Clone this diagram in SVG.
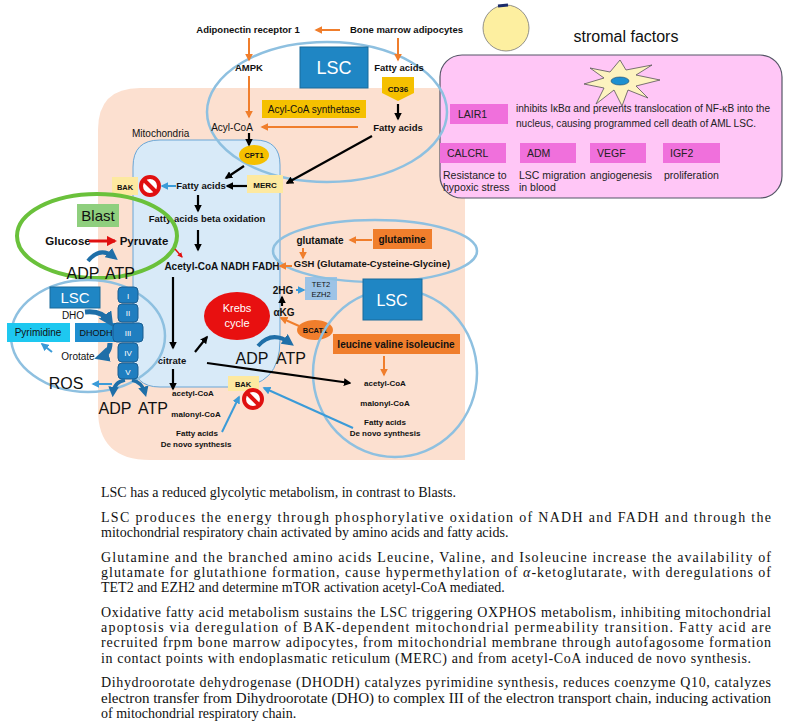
<svg xmlns="http://www.w3.org/2000/svg" width="787" height="725" viewBox="0 0 787 725">
<style>
.b{font-family:"Liberation Sans",Arial,sans-serif;font-weight:bold;fill:#111}
.n{font-family:"Liberation Sans",Arial,sans-serif;fill:#111}
.s{font-family:"Liberation Serif","Times New Roman",serif;font-size:14px;fill:#111}
.or{stroke:#f07e2c;stroke-width:2;fill:none}
.bk{stroke:#000;stroke-width:2.2;fill:none}
.bl{stroke:#3b9bd8;stroke-width:2;fill:none}
.ell{fill:none;stroke:#8ec0e0;stroke-width:2.5}
.pk{fill:#f070dc}
.pt{font-family:"Liberation Sans",Arial,sans-serif;font-size:10.5px;fill:#222}
.cx{fill:#1f7ec0;stroke:#1a5d8f;stroke-width:1}
.w{font-family:"Liberation Sans",Arial,sans-serif;fill:#fff}
</style>
<defs>
<marker id="ao" viewBox="0 0 10 10" refX="8" refY="5" markerWidth="4" markerHeight="4" orient="auto"><path d="M0,0L10,5L0,10z" fill="#f07e2c"/></marker>
<marker id="ak" viewBox="0 0 10 10" refX="8" refY="5" markerWidth="3.5" markerHeight="3.5" orient="auto"><path d="M0,0L10,5L0,10z" fill="#000"/></marker>
<marker id="ab" viewBox="0 0 10 10" refX="8" refY="5" markerWidth="4" markerHeight="4" orient="auto"><path d="M0,0L10,5L0,10z" fill="#3b9bd8"/></marker>
<marker id="ar" viewBox="0 0 10 10" refX="8" refY="5" markerWidth="3.5" markerHeight="3.5" orient="auto"><path d="M0,0L10,5L0,10z" fill="#e01010"/></marker>
<marker id="ad" viewBox="0 0 10 10" refX="6" refY="5" markerWidth="3" markerHeight="3" orient="auto"><path d="M0,0L10,5L0,10z" fill="#1f6fa8"/></marker>
<g id="nosign"><circle r="9" fill="#fff" stroke="#e01010" stroke-width="4"/><line x1="-6" y1="-6" x2="6" y2="6" stroke="#e01010" stroke-width="4"/></g>
</defs>
<rect width="787" height="725" fill="#fff"/>

<g id="cell"><path d="M140,88 H465 V460 H150 Q98,460 98,410 V130 Q98,88 140,88 Z" fill="#fce0d0"/></g>
<g id="mito"><path d="M160,140 H255 Q280,140 280,165 V340 Q280,387 235,387 H160 Q133,387 133,360 V167 Q133,140 160,140 Z" fill="#d8eaf8" stroke="#6aa6d6" stroke-width="1"/>
<text x="132" y="137" class="n" font-size="10">Mitochondria</text></g>

<g id="stromal">
<circle cx="506" cy="28" r="23" fill="#fdefa0" stroke="#777" stroke-width="0.8"/>
<path d="M498,6 L508,5" stroke="#1a2a6a" stroke-width="3" fill="none"/>
<text x="626" y="42" class="n" font-size="16" text-anchor="middle">stromal factors</text>
<rect x="440" y="55" width="342" height="143" rx="22" fill="#ffc6f6" stroke="#556" stroke-width="1.2"/>
<path d="M620,60 L626,70 L652,65 L636,75 L660,80 L636,86 L648,98 L628,90 L622,106 L614,90 L596,104 L604,88 L584,84 L604,78 L590,68 L610,72 Z" fill="#fdf3c0" stroke="#555" stroke-width="0.8"/>
<ellipse cx="620" cy="81" rx="9" ry="4" fill="#1e90d0" stroke="#246" stroke-width="0.6"/>
<rect x="450" y="104" width="58" height="20" class="pk"/><text x="458" y="118" class="pt">LAIR1</text>
<text x="516" y="112" class="pt" textLength="254" lengthAdjust="spacingAndGlyphs">inhibits IκBα and prevents translocation of NF-κB into the</text>
<text x="516" y="127" class="pt" textLength="240" lengthAdjust="spacingAndGlyphs">nucleus, causing programmed cell death  of AML LSC.</text>
<rect x="440" y="143" width="66" height="20" class="pk"/><text x="447" y="157" class="pt">CALCRL</text>
<rect x="520" y="143" width="56" height="20" class="pk"/><text x="527" y="157" class="pt">ADM</text>
<rect x="590" y="143" width="56" height="20" class="pk"/><text x="597" y="157" class="pt">VEGF</text>
<rect x="663" y="143" width="57" height="20" class="pk"/><text x="670" y="157" class="pt">IGF2</text>
<text x="443" y="179" class="pt" font-size="10">Resistance to</text><text x="443" y="191" class="pt" font-size="10">hypoxic stress</text>
<text x="519" y="179" class="pt" font-size="10">LSC migration</text><text x="519" y="191" class="pt" font-size="10">in blood</text>
<text x="590" y="179" class="pt" font-size="10">angiogenesis</text>
<text x="664" y="179" class="pt" font-size="10">proliferation</text>
</g>

<g id="top">
<text x="248" y="33" class="b" font-size="9.5" text-anchor="middle">Adiponectin  receptor 1</text>
<text x="350" y="33" class="b" font-size="9.5">Bone marrow adipocytes</text>
<ellipse cx="327" cy="112" rx="120" ry="70" class="ell"/>
<rect x="300" y="47" width="68" height="41" fill="#1f86c4" stroke="#1a6a9a"/>
<text x="334" y="74" class="w" font-size="18" text-anchor="middle">LSC</text>
<text x="249" y="71" class="b" font-size="9.5" text-anchor="middle">AMPK</text>
<text x="399" y="71" class="b" font-size="9.5" text-anchor="middle">Fatty acids</text>
<path d="M382,77 H414 V93 L398,101 L382,93 Z" fill="#f5c000"/>
<text x="398" y="92" class="b" font-size="8" text-anchor="middle">CD36</text>
<text x="398" y="131" class="b" font-size="9.5" text-anchor="middle">Fatty acids</text>
<rect x="262" y="100" width="104" height="18" fill="#f5c000"/>
<text x="314" y="113" class="n" font-size="10" text-anchor="middle">Acyl-CoA synthetase</text>
<text x="232" y="131" class="n" font-size="10" text-anchor="middle">Acyl-CoA</text>
<ellipse cx="254" cy="155" rx="15" ry="10" fill="#f5c000"/>
<text x="254" y="158" class="b" font-size="7.5" text-anchor="middle">CPT1</text>
<rect x="247" y="175" width="36" height="18" fill="#fde9a0"/>
<text x="265" y="188" class="b" font-size="8" text-anchor="middle">MERC</text>
<text x="201" y="189" class="b" font-size="9.5" text-anchor="middle">Fatty acids</text>
<rect x="112" y="177" width="26" height="18" fill="#fde9a0"/>
<text x="125" y="190" class="b" font-size="7.5" text-anchor="middle">BAK</text>
<use href="#nosign" x="150" y="186"/>
<text x="207" y="222" class="b" font-size="9.5" text-anchor="middle">Fatty acids beta oxidation</text>
</g>

<g id="blast">
<ellipse cx="97" cy="236" rx="80" ry="42" fill="none" stroke="#6ac13b" stroke-width="4"/>
<rect x="77" y="204" width="42" height="23" fill="#8fcf7e"/>
<text x="98" y="221" class="n" font-size="15" text-anchor="middle">Blast</text>
<text x="68" y="245" class="b" font-size="11.5" text-anchor="middle">Glucose</text>
<text x="144" y="245" class="b" font-size="11.5" text-anchor="middle">Pyruvate</text>
<text x="83" y="279" class="n" font-size="16" text-anchor="middle">ADP</text>
<text x="120" y="279" class="n" font-size="16" text-anchor="middle">ATP</text>
<path d="M88,261 Q100,246 114,257" stroke="#1f6fa8" stroke-width="4" fill="none" marker-end="url(#ad)"/>
</g>

<g id="krebs">
<text x="222" y="270" class="b" font-size="10" text-anchor="middle">Acetyl-CoA  NADH  FADH</text>
<ellipse cx="237" cy="316" rx="33" ry="24" fill="#e81010"/>
<text x="237" y="312" class="w" font-size="11" text-anchor="middle">Krebs</text>
<text x="237" y="327" class="w" font-size="11" text-anchor="middle">cycle</text>
<text x="252" y="364" class="n" font-size="16" text-anchor="middle">ADP</text>
<text x="291" y="364" class="n" font-size="16" text-anchor="middle">ATP</text>
<path d="M258,346 Q272,330 290,343" stroke="#1f6fa8" stroke-width="4" fill="none" marker-end="url(#ad)"/>
<text x="172" y="364" class="b" font-size="9.5" text-anchor="middle">citrate</text>
<text x="193" y="396" class="b" font-size="8" text-anchor="middle">acetyl-CoA</text>
<text x="196" y="417" class="b" font-size="8" text-anchor="middle">malonyl-CoA</text>
<text x="197" y="436" class="b" font-size="8" text-anchor="middle">Fatty acids</text>
<text x="196" y="447" class="b" font-size="8" text-anchor="middle">De novo synthesis</text>
<rect x="228" y="376" width="31" height="15" fill="#fde9a0"/>
<text x="243" y="387" class="b" font-size="7.5" text-anchor="middle">BAK</text>
<use href="#nosign" x="253" y="399"/>
<text x="283" y="294" class="b" font-size="10" text-anchor="middle">2HG</text>
<text x="284" y="316" class="b" font-size="10" text-anchor="middle">αKG</text>
<rect x="305" y="277" width="32" height="23" fill="#9dc3e6"/>
<text x="321" y="287" class="n" font-size="7.5" fill="#2a5a8a" text-anchor="middle">TET2</text>
<text x="321" y="297" class="n" font-size="7.5" fill="#2a5a8a" text-anchor="middle">EZH2</text>
<ellipse cx="315" cy="330" rx="18" ry="10" fill="#f07e2c"/>
<text x="315" y="333" class="b" font-size="7.5" text-anchor="middle" fill="#5a1a00">BCAT1</text>
</g>

<g id="glut">
<ellipse cx="375" cy="251" rx="102" ry="31" class="ell"/>
<text x="320" y="244" class="b" font-size="10" text-anchor="middle">glutamate</text>
<rect x="373" y="229" width="59" height="20" fill="#f07e2c"/>
<text x="402" y="243" class="b" font-size="10" text-anchor="middle" fill="#4a1a00">glutamine</text>
<text x="372" y="267" class="b" font-size="9.5" text-anchor="middle">GSH (Glutamate-Cysteine-Glycine)</text>
</g>

<g id="lsc2">
<ellipse cx="395" cy="373" rx="82" ry="84" class="ell"/>
<rect x="363" y="279" width="59" height="41" fill="#1f86c4" stroke="#1a6a9a"/>
<text x="392" y="306" class="w" font-size="16" text-anchor="middle">LSC</text>
<rect x="333" y="334" width="127" height="20" fill="#f07e2c"/>
<text x="396" y="348" class="b" font-size="10" text-anchor="middle" fill="#4a1a00">leucine valine isoleucine</text>
<text x="385" y="386" class="b" font-size="8" text-anchor="middle">acetyl-CoA</text>
<text x="385" y="406" class="b" font-size="8" text-anchor="middle">malonyl-CoA</text>
<text x="385" y="425" class="b" font-size="8" text-anchor="middle">Fatty acids</text>
<text x="385" y="436" class="b" font-size="8" text-anchor="middle">De novo synthesis</text>
</g>

<g id="lsc3">
<ellipse cx="88" cy="336" rx="77" ry="56" class="ell"/>
<rect x="50" y="287" width="50" height="21" fill="#1f86c4" stroke="#1a6a9a"/>
<text x="75" y="303" class="w" font-size="15" text-anchor="middle">LSC</text>
<text x="73" y="319" class="n" font-size="10" text-anchor="middle">DHO</text>
<rect x="7" y="323" width="63" height="19" fill="#1ec8f0"/>
<text x="38" y="336" class="n" font-size="10" text-anchor="middle">Pyrimidine</text>
<rect x="75" y="323" width="43" height="19" fill="#1f8fd0"/>
<text x="96" y="336" class="n" font-size="9" fill="#0a2a5a" text-anchor="middle">DHODH</text>
<text x="78" y="360" class="n" font-size="10" text-anchor="middle">Orotate</text>
<text x="66" y="389" class="n" font-size="16" text-anchor="middle">ROS</text>
<text x="115" y="414" class="n" font-size="16" text-anchor="middle">ADP</text>
<text x="153" y="414" class="n" font-size="16" text-anchor="middle">ATP</text>
<rect x="118" y="287" width="20" height="16" rx="4" class="cx"/><text x="128" y="299" class="w" font-size="8" text-anchor="middle">I</text>
<rect x="118" y="304" width="20" height="18" rx="4" class="cx"/><text x="128" y="316" class="w" font-size="8" text-anchor="middle">II</text>
<rect x="113" y="323" width="30" height="19" rx="4" class="cx"/><text x="128" y="336" class="w" font-size="8" text-anchor="middle">III</text>
<rect x="118" y="343" width="20" height="19" rx="4" class="cx"/><text x="128" y="356" class="w" font-size="8" text-anchor="middle">IV</text>
<rect x="118" y="363" width="20" height="16" rx="4" class="cx"/><text x="128" y="375" class="w" font-size="8" text-anchor="middle">V</text>
<path d="M85,312 Q102,310 110,322" stroke="#1f6fa8" stroke-width="5" fill="none" marker-end="url(#ad)"/>
<path d="M110,343 Q110,354 100,357" stroke="#1f6fa8" stroke-width="5" fill="none" marker-end="url(#ad)"/>
<path d="M125,380 Q114,382 113,393" stroke="#1f6fa8" stroke-width="3.5" fill="none" marker-end="url(#ad)"/>
<path d="M132,380 Q142,382 145,393" stroke="#1f6fa8" stroke-width="3.5" fill="none" marker-end="url(#ad)"/>
</g>

<g id="connectors">
<line x1="340" y1="30" x2="316" y2="30" class="or" marker-end="url(#ao)"/>
<line x1="249" y1="38" x2="249" y2="60" class="or" marker-end="url(#ao)"/>
<line x1="398" y1="38" x2="398" y2="60" class="or" marker-end="url(#ao)"/>
<line x1="249" y1="76" x2="249" y2="117" class="or" marker-end="url(#ao)"/>
<line x1="358" y1="127" x2="262" y2="127" class="or" marker-end="url(#ao)"/>
<line x1="398" y1="104" x2="398" y2="119" class="bk" marker-end="url(#ak)"/>
<line x1="249" y1="133" x2="249" y2="145" class="bk" marker-end="url(#ak)"/>
<line x1="372" y1="136" x2="287" y2="183" class="bk" marker-end="url(#ak)"/>
<line x1="244" y1="166" x2="226" y2="178" class="bk" marker-end="url(#ak)"/>
<line x1="247" y1="186" x2="227" y2="186" class="bk" marker-end="url(#ak)"/>
<line x1="176" y1="186" x2="162" y2="186" class="bl" marker-end="url(#ab)"/>
<line x1="198" y1="195" x2="198" y2="211" class="bk" marker-end="url(#ak)"/>
<line x1="198" y1="230" x2="198" y2="250" class="bk" marker-end="url(#ak)"/>
<line x1="89" y1="241" x2="115" y2="241" stroke="#e01010" stroke-width="3" marker-end="url(#ar)"/>
<line x1="175" y1="249" x2="182" y2="257" stroke="#e01010" stroke-width="1.5" marker-end="url(#ar)"/>
<line x1="173" y1="277" x2="173" y2="348" class="bk" marker-end="url(#ak)"/>
<line x1="195" y1="352" x2="207" y2="337" class="bk" marker-end="url(#ak)"/>
<line x1="173" y1="369" x2="173" y2="389" class="bk" marker-end="url(#ak)"/>
<line x1="207" y1="363" x2="350" y2="383" class="bk" marker-end="url(#ak)"/>
<line x1="372" y1="240" x2="350" y2="240" class="or" marker-end="url(#ao)"/>
<line x1="303" y1="248" x2="303" y2="258" class="or" marker-end="url(#ao)"/>
<line x1="292" y1="266" x2="280" y2="266" class="or" marker-end="url(#ao)"/>
<line x1="296" y1="290" x2="304" y2="290" class="bl" marker-end="url(#ab)"/>
<line x1="282" y1="306" x2="282" y2="297" class="bk" stroke-width="1.5" marker-end="url(#ak)"/>
<line x1="299" y1="326" x2="281" y2="318" class="or" marker-end="url(#ao)"/>
<line x1="384" y1="356" x2="384" y2="375" class="or" marker-end="url(#ao)"/>
<line x1="222" y1="432" x2="239" y2="397" class="bl" marker-end="url(#ab)"/>
<line x1="353" y1="428" x2="264" y2="388" class="bl" marker-end="url(#ab)"/>
<line x1="52" y1="352" x2="42" y2="344" class="bl" marker-end="url(#ab)"/>
<line x1="112" y1="384" x2="93" y2="384" class="bl" marker-end="url(#ab)"/>
</g>

<g id="text">
<text x="101" y="497" class="s">LSC has a reduced glycolytic  metabolism,  in contrast to Blasts.</text>
<text x="101" y="522" class="s" textLength="670" lengthAdjust="spacing">LSC produces the energy through phosphorylative oxidation of NADH and FADH and through the</text>
<text x="101" y="537" class="s">mitochondrial respiratory chain activated by amino acids and fatty acids.</text>
<text x="101" y="562" class="s" textLength="670" lengthAdjust="spacing">Glutamine and the branched amino acids Leucine, Valine, and Isoleucine increase the availability of</text>
<text x="101" y="577" class="s" textLength="670" lengthAdjust="spacing">glutamate for glutathione formation, cause hypermethylation of <tspan font-style="italic">α</tspan>-ketoglutarate, with deregulations of</text>
<text x="101" y="592" class="s">TET2 and EZH2 and determine mTOR activation acetyl-CoA mediated.</text>
<text x="101" y="617" class="s" textLength="670" lengthAdjust="spacing">Oxidative fatty acid metabolism sustains the LSC triggering OXPHOS metabolism, inhibiting mitochondrial</text>
<text x="101" y="632" class="s" textLength="670" lengthAdjust="spacing">apoptosis via deregulation of BAK-dependent mitochondrial permeability transition. Fatty acid are</text>
<text x="101" y="647" class="s" textLength="670" lengthAdjust="spacing">recruited frpm bone marrow adipocytes, from mitochondrial membrane through autofagosome formation</text>
<text x="101" y="663" class="s" textLength="650" lengthAdjust="spacing">in contact points with endoplasmatic reticulum (MERC) and from acetyl-CoA induced de novo synthesis.</text>
<text x="101" y="687" class="s" textLength="670" lengthAdjust="spacing">Dihydroorotate dehydrogenase (DHODH) catalyzes pyrimidine synthesis, reduces coenzyme Q10, catalyzes</text>
<text x="101" y="703" class="s" textLength="670" lengthAdjust="spacingAndGlyphs">electron transfer from Dihydroorotate (DHO) to complex III of the electron transport chain, inducing activation</text>
<text x="101" y="718" class="s">of mitochondrial respiratory chain.</text>
</g>
</svg>
